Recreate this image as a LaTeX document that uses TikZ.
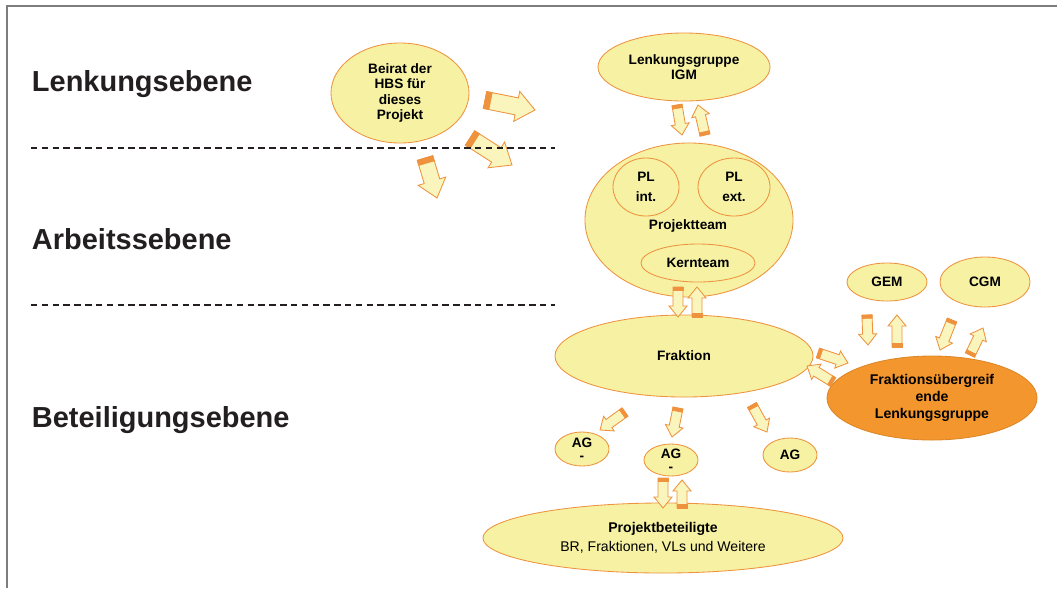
\documentclass[tikz,border=0pt]{standalone}
\usepackage{fontspec}
\setmainfont{Liberation Sans}
\usetikzlibrary{shapes.geometric,calc}
\usepackage{xcolor}
\definecolor{paleyellow}{RGB}{246,241,163}
\definecolor{arrowfill}{RGB}{249,245,188}
\definecolor{orangeline}{RGB}{238,146,62}
\definecolor{orangefill}{RGB}{243,150,45}
\definecolor{textgray}{RGB}{35,31,32}
\definecolor{framegray}{RGB}{125,125,125}
\tikzset{
    bubble/.style={ellipse, draw=orangeline, fill=paleyellow, line width=0.6pt, inner sep=0pt, align=center, font=\bfseries\fontsize{9.7}{11}\selectfont},
    level/.style={anchor=base west, text=textgray, font=\bfseries\fontsize{20.6}{24}\selectfont},
    levelline/.style={textgray, line width=1.3pt, dash pattern=on 4.6pt off 3.1pt},
    arrbody/.style={fill=arrowfill, draw=orangeline, line width=0.6pt},
    arrtail/.style={fill=orangeline, draw=orangeline, line width=0.4pt}
}
% block arrow: [size] {tail} {head}
\newcommand{\barrow}[3][1]{%
    \path (#2) coordinate (bt) (#3) coordinate (bh);
    \filldraw[arrbody] ($(bt)!#1*3.6pt!90:(bh)$)
        -- ($(bh)!#1*7.8pt!(bt)!#1*3.6pt!-90:(bt)$)
        -- ($(bh)!#1*7.8pt!(bt)!#1*6.4pt!-90:(bt)$)
        -- (bh)
        -- ($(bh)!#1*7.8pt!(bt)!#1*6.4pt!90:(bt)$)
        -- ($(bh)!#1*7.8pt!(bt)!#1*3.6pt!90:(bt)$)
        -- ($(bt)!#1*3.6pt!-90:(bh)$) -- cycle;
    \filldraw[arrtail] ($(bt)!#1*3.6pt!90:(bh)$)
        -- ($(bt)!#1*2.4pt!(bh)!#1*3.6pt!90:(bh)$)
        -- ($(bt)!#1*2.4pt!(bh)!#1*3.6pt!-90:(bh)$)
        -- ($(bt)!#1*3.6pt!-90:(bh)$) -- cycle;
}
\begin{document}
\begin{tikzpicture}[x=0.025cm, y=-0.025cm]
    \useasboundingbox (0,0) rectangle (1057,588);
    \draw[framegray, line width=0.8pt] (7,588) -- (7,6) -- (1057,6);

    \node[level] (lenkebene) at (27,91) {Lenkungsebene};
    \node[level] (arbebene) at (27,249) {Arbeitssebene};
    \node[level] (betebene) at (27,427) {Beteiligungsebene};

    \node[bubble, minimum width=3.45cm, minimum height=2.5cm] (beirat) at (400,93) {Beirat der\\HBS für\\dieses\\Projekt};
    \node[bubble, minimum width=4.3cm, minimum height=1.7cm] (lenk) at (684,67) {Lenkungsgruppe\\IGM};

    \node[bubble, minimum width=5.2cm, minimum height=3.85cm] (team) at (689,220) {};
    \node[bubble, minimum width=1.65cm, minimum height=1.45cm, font=\bfseries\fontsize{9.7}{14}\selectfont] (plint) at (646,187) {PL\\int.};
    \node[bubble, minimum width=1.8cm, minimum height=1.45cm, font=\bfseries\fontsize{9.7}{14}\selectfont] (plext) at (734,187) {PL\\ext.};
    \node[font=\bfseries\fontsize{9.7}{11}\selectfont] (teamtext) at (688,226) {Projektteam};
    \node[bubble, minimum width=2.85cm, minimum height=0.95cm] (kern) at (698,263) {Kernteam};

    \node[bubble, minimum width=6.45cm, minimum height=2.05cm] (frak) at (684,356) {Fraktion};
    \node[bubble, minimum width=2.0cm, minimum height=0.95cm] (gem) at (887,282) {GEM};
    \node[bubble, minimum width=2.25cm, minimum height=1.25cm] (cgm) at (985,282) {CGM};
    \node[bubble, fill=orangefill, draw=orangefill!90!black, minimum width=5.25cm, minimum height=2.1cm, font=\bfseries\fontsize{10}{12}\selectfont] (flg) at (932,398) {Fraktionsübergreif\\ende\\Lenkungsgruppe};

    \node[bubble, minimum width=1.35cm, minimum height=0.85cm] (agl) at (582,449) {AG\\[-2pt]-};
    \node[bubble, minimum width=1.35cm, minimum height=0.8cm] (agm) at (671,460) {AG\\[-2pt]-};
    \node[bubble, minimum width=1.35cm, minimum height=0.85cm] (agr) at (790,455) {AG};
    \node[bubble, minimum width=9cm, minimum height=1.75cm, font=\fontsize{10}{11}\selectfont] (beteil) at (663,538) {\textbf{Projektbeteiligte}\\[2.5pt]BR, Fraktionen, VLs und Weitere};

    % Beirat
    \barrow[1.7]{$(beirat)+(85,7)$}{$(lenk)+(-149,43)$}
    \barrow[1.7]{$(beirat)+(70,45)$}{$(team)+(-177,-55)$}
    \barrow[1.6]{$(beirat)+(25,65)$}{$(beirat)+(37,105)$}

    \barrow{$(lenk)+(-7,38)$}{$(team)+(-7,-85)$}
    \barrow{$(team)+(16,-85)$}{$(lenk)+(14,38)$}
    \barrow{$(team)+(-11,67)$}{$(frak)+(-6,-39)$}
    \barrow{$(frak)+(13,-39)$}{$(team)+(8,67)$}

    \barrow{$(gem)+(-20,33)$}{$(flg)+(-64,-53)$}
    \barrow{$(flg)+(-35,-51)$}{$(gem)+(10,33)$}
    \barrow{$(cgm)+(-33,38)$}{$(flg)+(8,-48)$}
    \barrow{$(flg)+(38,-43)$}{$(cgm)+(-2,46)$}
    \barrow{$(frak)+(134,-3)$}{$(flg)+(-84,-35)$}
    \barrow{$(flg)+(-99,-16)$}{$(frak)+(123,10)$}

    \barrow{$(frak)+(-59,56)$}{$(agl)+(18,-19)$}
    \barrow{$(frak)+(-6,52)$}{$(agm)+(1,-23)$}
    \barrow{$(frak)+(68,49)$}{$(agr)+(-23,-23)$}
    \barrow{$(agm)+(-8,18)$}{$(beteil)+(0,-30)$}
    \barrow{$(beteil)+(19,-30)$}{$(agm)+(11,20)$}

    \draw[levelline] (31,148) -- (555,148);
    \draw[levelline] (31,305) -- (555,305);
\end{tikzpicture}
\end{document}
